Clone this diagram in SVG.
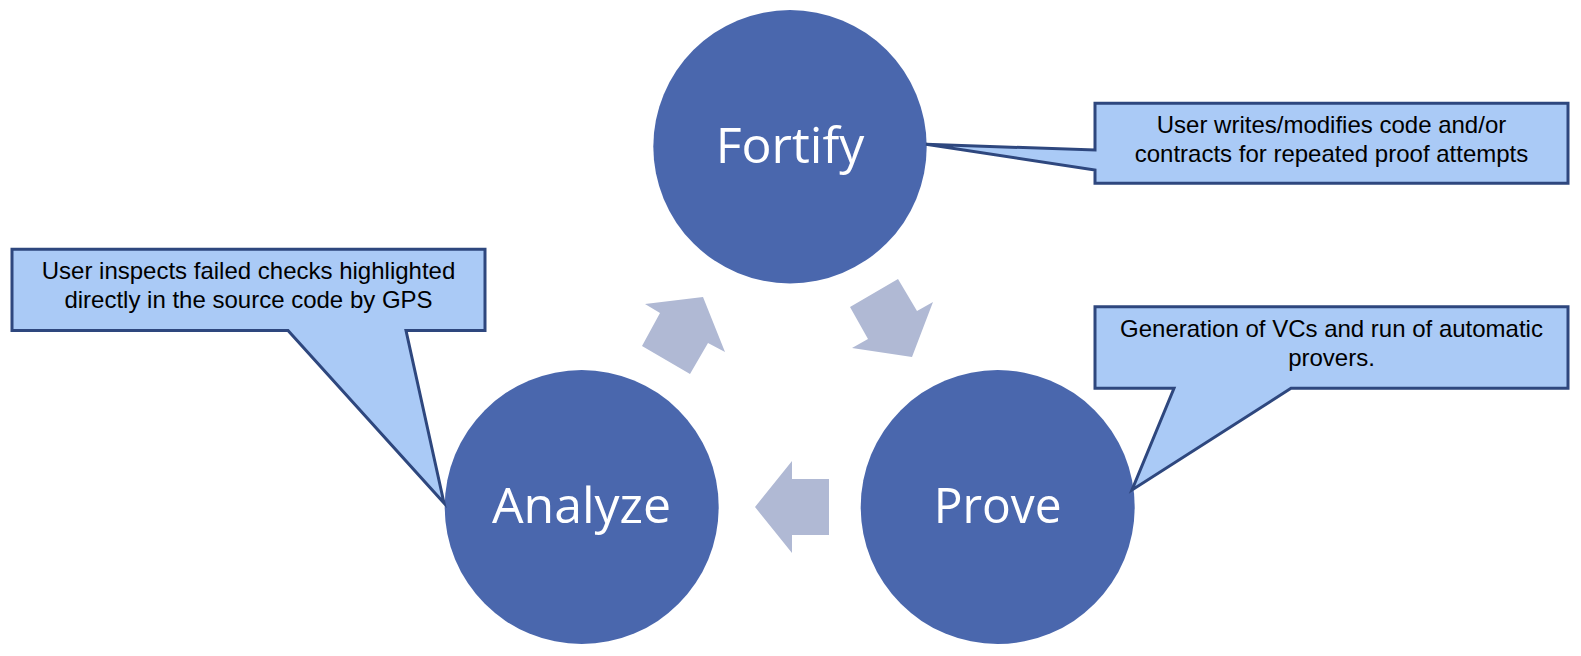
<svg xmlns="http://www.w3.org/2000/svg" width="1581" height="656" viewBox="0 0 1581 656">
<style>
.node{fill:#4A67AD;}
.nlabel{font-family:"Open Sans","Noto Sans",sans-serif;font-size:50px;fill:#FFFFFF;text-anchor:middle;}
.arrow{fill:#B0B9D4;}
.callout{fill:#AACAF6;stroke:#2E477E;stroke-width:3;stroke-linejoin:miter;}
.ctext{font-family:"Liberation Sans",Arial,sans-serif;font-size:24px;fill:#000000;text-anchor:middle;}
</style>
<rect width="1581" height="656" fill="#FFFFFF"/>
<g id="connectors">
<polygon class="arrow" points="645,304 703,297 725,352 708,343 690,374 642,346 660,313"/>
<polygon class="arrow" points="898,279 917,311 933,302 912,357 852,348 868,339 850,307"/>
<polygon class="arrow" points="755,507 792,461 792,479 829,479 829,535 792,535 792,553"/>
</g>
<g id="fortify">
<circle class="node" cx="790" cy="146.7" r="136.7"/>
<text class="nlabel" x="790" y="163">Fortify</text>
</g>
<g id="analyze">
<circle class="node" cx="581.7" cy="507" r="137"/>
<text class="nlabel" x="581.5" y="523">Analyze</text>
</g>
<g id="prove">
<circle class="node" cx="997.7" cy="507" r="137"/>
<text class="nlabel" x="997.7" y="523" textLength="128" lengthAdjust="spacingAndGlyphs">Prove</text>
</g>
<g id="callout-fortify">
<path class="callout" d="M1095,103.3 H1568 V183.3 H1095 V170 L926,144.3 L1095,150 Z"/>
<text class="ctext" x="1331.5" y="132.7">User writes/modifies code and/or</text>
<text class="ctext" x="1331.5" y="161.7">contracts for repeated proof attempts</text>
</g>
<g id="callout-analyze">
<path class="callout" d="M12,249.3 H485 V330.5 H406 L444,503 L288,330.5 H12 Z"/>
<text class="ctext" x="248.5" y="279.3">User inspects failed checks highlighted</text>
<text class="ctext" x="248.5" y="308.3">directly in the source code by GPS</text>
</g>
<g id="callout-prove">
<path class="callout" d="M1095,306.7 H1568 V388.3 H1291 L1132,490 L1174,388.3 H1095 Z"/>
<text class="ctext" x="1331.5" y="336.7">Generation of VCs and run of automatic</text>
<text class="ctext" x="1331.5" y="365.7">provers.</text>
</g>
</svg>
